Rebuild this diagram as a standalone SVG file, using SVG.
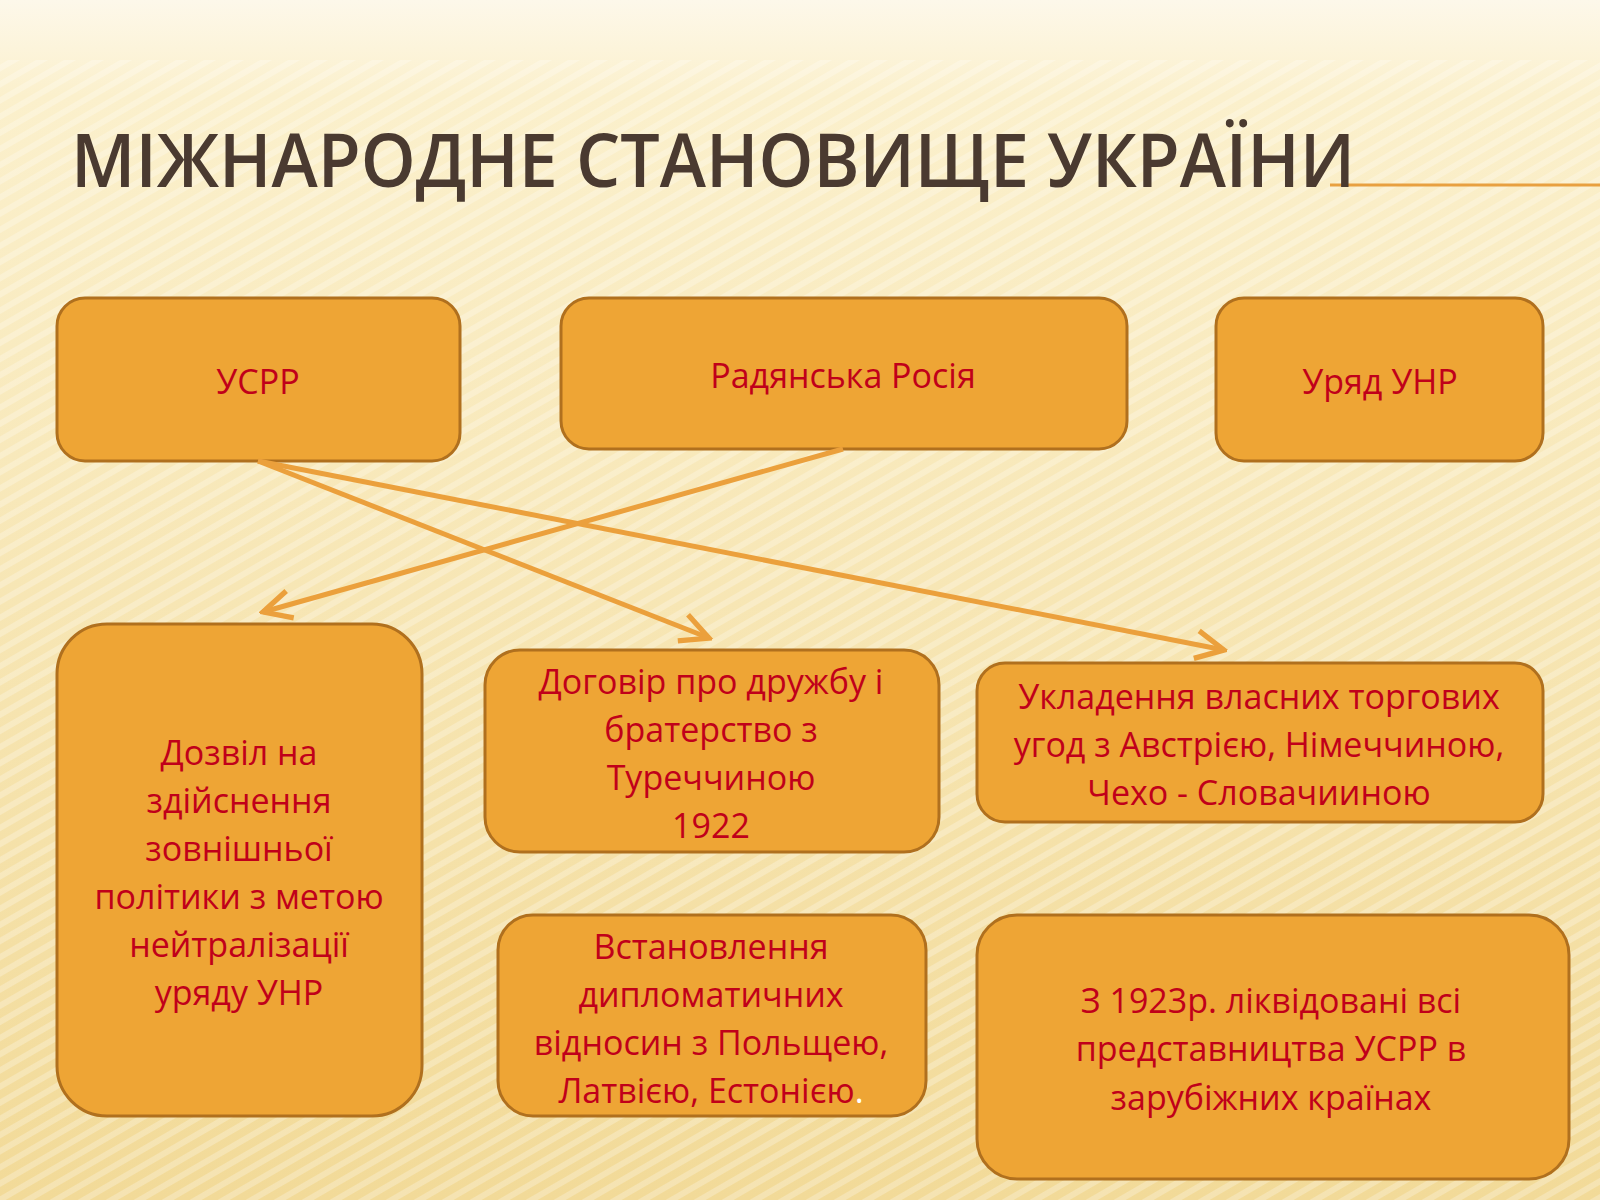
<svg xmlns="http://www.w3.org/2000/svg" width="1600" height="1200" viewBox="0 0 1600 1200">
<defs>
<linearGradient id="bg" x1="0" y1="0" x2="0" y2="1">
<stop offset="0" stop-color="#fdf8ea"/>
<stop offset="0.08" stop-color="#fbf0cc"/>
<stop offset="1" stop-color="#f2da98"/>
</linearGradient>
<pattern id="st" width="14" height="14" patternUnits="userSpaceOnUse" patternTransform="rotate(-30)">
<rect width="14" height="6" fill="#ffffff" opacity="0.25"/>
</pattern>
<marker id="ah" viewBox="0 0 20 20" refX="18" refY="10" markerWidth="7" markerHeight="7" orient="auto" markerUnits="strokeWidth">
<path d="M2,2 L18,10 L2,18" fill="none" stroke="#eba03c" stroke-width="3"/>
</marker>
<style>
.b{fill:#eea535;stroke:#b0701e;stroke-width:3}
.t{font-family:"Open Sans","Liberation Sans",sans-serif;font-size:34px;fill:#c0001a;text-anchor:middle}
.c{stroke:#eba03c;stroke-width:5;fill:none;marker-end:url(#ah)}
</style>
</defs>
<rect width="1600" height="1200" fill="url(#bg)"/>
<rect y="60" width="1600" height="1140" fill="url(#st)"/>
<line x1="1330" y1="185" x2="1600" y2="185" stroke="#e8a040" stroke-width="3"/>
<text x="71" y="187" font-family="Open Sans,Liberation Sans,sans-serif" font-size="74" font-weight="600" fill="#4a3a30" textLength="1284" lengthAdjust="spacingAndGlyphs">МІЖНАРОДНЕ СТАНОВИЩЕ УКРАЇНИ</text>
<g id="n1"><rect class="b" x="57" y="298" width="403" height="163" rx="28"/><text class="t" x="258" y="394">УСРР</text></g>
<g id="n2"><rect class="b" x="561" y="298" width="566" height="151" rx="28"/><text class="t" x="843" y="388">Радянська Росія</text></g>
<g id="n3"><rect class="b" x="1216" y="298" width="327" height="163" rx="28"/><text class="t" x="1380" y="394">Уряд УНР</text></g>
<g id="n4"><rect class="b" x="57" y="624" width="365" height="492" rx="50"/>
<text class="t"><tspan x="239" y="765">Дозвіл на</tspan><tspan x="239" y="813">здійснення</tspan><tspan x="239" y="861">зовнішньої</tspan><tspan x="239" y="909">політики з метою</tspan><tspan x="239" y="957">нейтралізації</tspan><tspan x="239" y="1005">уряду УНР</tspan></text></g>
<g id="n5"><rect class="b" x="485" y="650" width="454" height="202" rx="35"/>
<text class="t"><tspan x="711" y="694">Договір про дружбу і</tspan><tspan x="711" y="742">братерство з</tspan><tspan x="711" y="790">Туреччиною</tspan><tspan x="711" y="838">1922</tspan></text></g>
<g id="n6"><rect class="b" x="977" y="663" width="566" height="159" rx="28"/>
<text class="t"><tspan x="1259" y="709">Укладення власних торгових</tspan><tspan x="1259" y="757">угод з Австрією, Німеччиною,</tspan><tspan x="1259" y="805">Чехо - Словачииною</tspan></text></g>
<g id="n7"><rect class="b" x="498" y="915" width="428" height="201" rx="35"/>
<text class="t"><tspan x="711" y="959">Встановлення</tspan><tspan x="711" y="1007">дипломатичних</tspan><tspan x="711" y="1055">відносин з Польщею,</tspan><tspan x="711" y="1103">Латвією, Естонією<tspan fill="#ffffff">.</tspan></tspan></text></g>
<g id="n8"><rect class="b" x="977" y="915" width="592" height="264" rx="40"/>
<text class="t"><tspan x="1271" y="1013">З 1923р. ліквідовані всі</tspan><tspan x="1271" y="1061">представництва УСРР в</tspan><tspan x="1271" y="1110">зарубіжних країнах</tspan></text></g>
<g id="connectors">
<line class="c" x1="258" y1="461" x2="709" y2="638"/>
<line class="c" x1="258" y1="461" x2="1224" y2="650"/>
<line class="c" x1="843" y1="449" x2="263" y2="612"/>
</g>
</svg>
